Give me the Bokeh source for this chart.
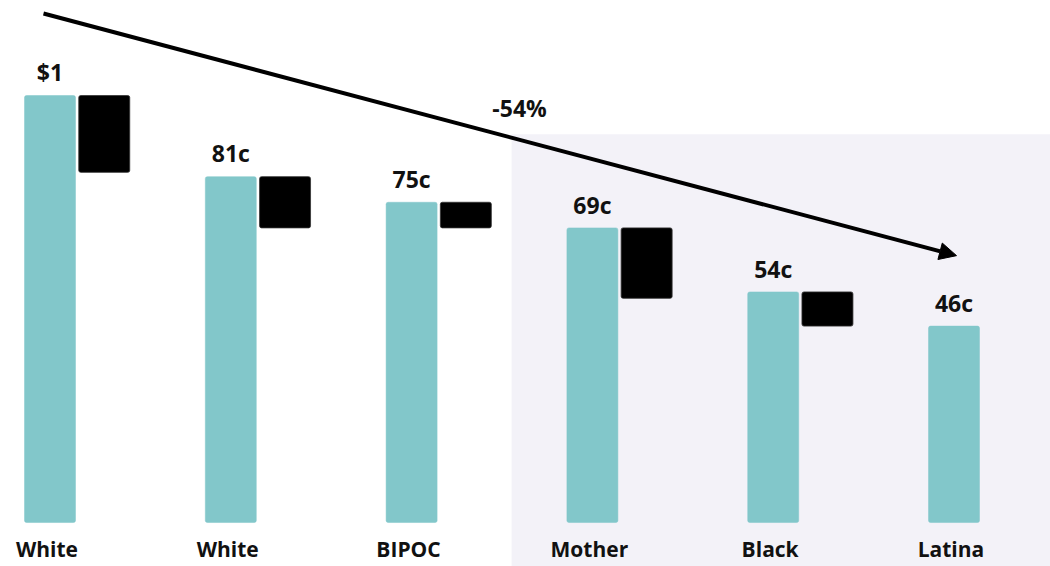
from bokeh.plotting import figure
from bokeh.models import Range1d, BoxAnnotation, Arrow, NormalHead, ColumnDataSource
from bokeh.core.properties import value
from bokeh.embed import file_html
from bokeh.resources import INLINE

# ---- data ----
categories = ["White", "White", "BIPOC", "Mother", "Black", "Latina"]
pay = [1.00, 0.81, 0.75, 0.69, 0.54, 0.46]
pay_labels = ["$1", "81c", "75c", "69c", "54c", "46c"]
gap_top = [1.00, 0.81, 0.75, 0.69, 0.54]
gap_bottom = [0.82, 0.69, 0.69, 0.525, 0.46]
change_label = "-54%"

idx = list(range(len(categories)))

TEAL = "#82C7CA"
FONT = "Open Sans"

p = figure(width=1050, height=566, output_backend="svg", toolbar_location=None,
           x_range=Range1d(-0.2738, 5.5337), y_range=Range1d(-0.1030, 1.2225),
           min_border=0, outline_line_color=None)
p.axis.visible = False
p.grid.visible = False
p.background_fill_color = "white"
p.border_fill_color = "white"

# shaded region for the intersectional groups
shade = BoxAnnotation(left=2.553, top=0.909, fill_color="#F3F2F8", fill_alpha=1.0,
                      line_color=None, level="underlay")
p.add_layout(shade)

bar_w = 0.282
src = ColumnDataSource(dict(x=idx, top=pay, lab=pay_labels, cat=categories,
                            ly=[v + 0.017 for v in pay],
                            cx=[i - 0.017 for i in idx]))
p.vbar(x="x", top="top", bottom=0, width=bar_w, source=src,
       fill_color=TEAL, line_color=TEAL, line_width=0.5, border_radius=2)

gsrc = ColumnDataSource(dict(x=[i + 0.3 for i in idx[:-1]], top=gap_top, bottom=gap_bottom))
p.vbar(x="x", top="top", bottom="bottom", width=bar_w, source=gsrc,
       fill_color="black", line_color="#333333", line_width=0.8, border_radius=2)

# value labels
p.text(x="x", y="ly", text="lab", source=src, text_align="center", text_baseline="bottom",
       text_font=value(FONT), text_font_style="bold", text_font_size="23px",
       text_color="#111111")

# category labels
p.text(x="cx", y=-0.063, text="cat", source=src, text_align="center", text_baseline="middle",
       text_font=value(FONT), text_font_style="bold", text_font_size="21px",
       text_color="#111111")

# trend arrow
arrow = Arrow(end=NormalHead(size=17, fill_color="black", line_color="black", line_width=1),
              x_start=-0.036, y_start=1.192, x_end=5.014, y_end=0.625,
              line_width=4, line_color="black")
p.add_layout(arrow)

p.text(x=[2.597], y=[0.9696], text=[change_label], text_align="center", text_baseline="middle",
       text_font=value(FONT), text_font_style="bold", text_font_size="23px",
       text_color="#111111")

open("out.html", "w").write(file_html(p, INLINE))
